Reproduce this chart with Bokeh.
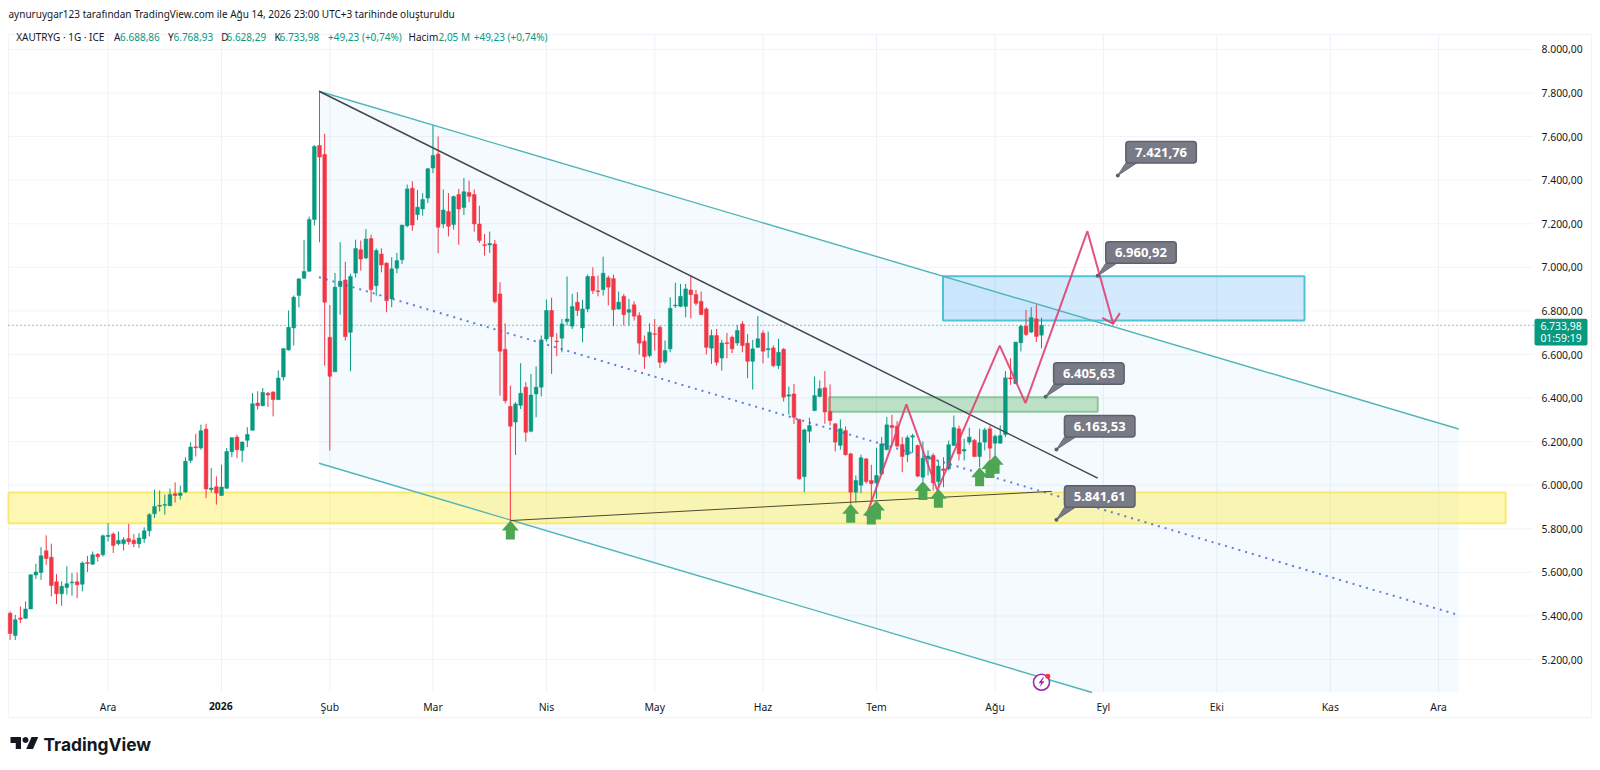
from bokeh.plotting import figure
from bokeh.models import Range1d, FixedTicker, ColumnDataSource
from bokeh.embed import file_html
from bokeh.resources import INLINE
from bokeh.core.properties import value
import numpy as np

opens = [5413,5310,5391,5390,5432,5588,5600,5699,5670,5557,
5502,5531,5552,5557,5546,5645,5638,5683,5681,5765,
5776,5732,5732,5755,5748,5732,5755,5791,5869,5904,
5908,5906,5961,5953,5969,6114,6177,6171,6258,5980,
5993,5953,5986,6154,6221,6160,6206,6252,6377,6365,
6422,6428,6393,6497,6621,6722,6871,6950,6982,7220,
7559,7518,6679,6521,6912,6942,6702,6974,7081,7043,
7132,6916,7061,7019,6855,6996,7035,7191,7363,7242,
7268,7318,7456,7520,7199,7256,7196,7334,7275,7343,
7334,7199,7104,7103,7107,6878,6624,6362,6290,6367,
6450,6248,6419,6450,6671,6802,6662,6675,6751,6730,
6840,6722,6809,6958,6892,6898,6952,6948,6809,6867,
6794,6828,6779,6661,6595,6695,6725,6567,6626,6823,
6821,6821,6896,6875,6844,6809,6629,6687,6584,6654,
6679,6653,6740,6652,6569,6633,6698,6622,6630,6549,
6624,6409,6419,6302,6040,6248,6343,6407,6447,6339,
6282,6183,6251,6144,5968,6000,6121,6022,6011,6052,
6164,6274,6271,6187,6140,6221,6183,6037,6122,6137,
6017,6075,6075,6183,6259,6157,6198,6206,6132,6198,
6259,6193,6193,6233,6493,6466,6654,6730,6703,6764,
6688.86]
highs = [5421,5405,5444,5467,5590,5640,5716,5770,5732,5592,
5559,5628,5597,5600,5650,5676,5696,5689,5773,5826,
5784,5788,5762,5823,5776,5781,5807,5872,5980,5976,
5957,5985,6013,5998,6128,6197,6236,6278,6282,6079,
6041,6094,6171,6221,6232,6201,6266,6423,6431,6446,
6428,6431,6527,6627,6802,6871,6950,7126,7233,7560,
7808,7613,6827,6974,7115,7026,6970,7127,7123,7176,
7150,7087,7087,7023,7046,7066,7194,7380,7395,7355,
7340,7456,7655,7600,7357,7341,7329,7360,7410,7398,
7357,7283,7153,7164,7126,6931,6743,6457,6381,6560,
6473,6511,6546,6687,6852,6860,6698,6763,6958,6878,
6886,6851,6967,7000,6962,7049,6962,6967,6889,6878,
6855,6844,6794,6687,6743,6763,6733,6664,6863,6929,
6924,6924,6962,6896,6889,6817,6714,6717,6667,6699,
6687,6736,6753,6694,6667,6776,6710,6705,6641,6672,
6630,6453,6465,6305,6259,6310,6499,6481,6524,6463,
6285,6302,6270,6149,6045,6140,6124,6094,6172,6221,
6313,6323,6294,6221,6228,6236,6186,6201,6160,6147,
6114,6129,6205,6320,6274,6213,6264,6213,6259,6264,
6274,6233,6274,6524,6583,6657,6736,6805,6817,6830,
6768.93]
lows = [5290,5290,5368,5386,5432,5570,5566,5635,5490,5455,
5447,5498,5493,5482,5513,5602,5635,5650,5673,5742,
5689,5724,5701,5727,5716,5712,5735,5765,5850,5880,
5865,5904,5921,5934,5964,6102,6132,6163,5941,5967,
5911,5952,5984,6129,6125,6106,6175,6252,6347,6362,
6359,6316,6393,6481,6618,6641,6817,6947,6980,7192,
7115,6549,6159,6521,6782,6664,6523,6954,6985,7038,
6840,6870,6977,6794,6817,6973,7015,7184,7168,7217,
7237,7295,7432,7064,7179,7142,7173,7103,7240,7299,
7164,7112,7054,7066,6835,6411,6376,5838,6139,6350,
6200,6243,6312,6408,6659,6511,6592,6610,6733,6717,
6776,6656,6794,6878,6867,6870,6825,6730,6805,6733,
6733,6756,6600,6534,6587,6618,6538,6557,6610,6814,
6817,6771,6766,6825,6783,6600,6557,6549,6526,6583,
6606,6641,6610,6491,6439,6630,6560,6584,6542,6534,
6384,6324,6281,6025,5968,6195,6340,6404,6282,6274,
6155,6163,6137,5915,5922,5964,6007,5922,5938,6048,
6160,6183,6175,6060,6106,6149,6037,6019,6045,5976,
5991,5991,6068,6180,6114,6114,6186,6129,6083,6160,
6121,6137,6190,6221,6461,6466,6614,6684,6698,6657,
6628.29]
closes = [5320,5383,5385,5432,5589,5602,5676,5664,5540,5502,
5536,5548,5556,5543,5643,5641,5681,5672,5768,5770,
5724,5747,5750,5741,5732,5758,5791,5865,5903,5908,
5912,5957,5953,5964,6110,6175,6172,6250,5983,5987,
5964,5992,6155,6218,6163,6198,6233,6374,6365,6426,
6414,6393,6492,6627,6725,6863,6947,6981,7220,7555,
7506,6840,6500,6909,6936,6682,6958,7086,7038,7130,
6898,7077,7011,6847,6993,7031,7194,7360,7194,7276,
7311,7452,7513,7184,7263,7188,7325,7268,7347,7326,
7199,7123,7100,7109,6843,6615,6388,6271,6373,6422,
6243,6414,6450,6667,6802,6682,6659,6740,6763,6820,
6802,6809,6958,6893,6889,6973,6909,6806,6840,6783,
6806,6776,6652,6590,6702,6692,6564,6618,6812,6827,
6867,6901,6875,6835,6783,6633,6687,6564,6653,6650,
6626,6710,6641,6569,6626,6672,6615,6627,6549,6610,
6404,6415,6312,6030,6254,6274,6411,6443,6336,6297,
6198,6259,6140,5968,6022,6126,6017,6007,6045,6190,
6277,6265,6180,6132,6218,6227,6042,6124,6134,6011,
6088,6068,6186,6264,6144,6164,6221,6132,6195,6254,
6170,6225,6228,6493,6488,6657,6730,6692,6769,6683,
6733.98]

price_ticks = [5200,5400,5600,5800,6000,6200,6400,6600,6800,7000,7200,7400,7600,7800,8000]
price_labels = ["5.200,00","5.400,00","5.600,00","5.800,00","6.000,00","6.200,00","6.400,00","6.600,00","6.800,00","7.000,00","7.200,00","7.400,00","7.600,00","7.800,00","8.000,00"]
time_ticks = [19,41,62,82,104,125,146,168,191,212,234,256,277]
time_labels = ["Ara","2026","Şub","Mar","Nis","May","Haz","Tem","Ağu","Eyl","Eki","Kas","Ara"]

channel_x = [59.9, 280.9]
channel_top = [7808, 6258]
channel_bottom = [6101, 4550]
channel_mid = [6955, 5404]
trend_x = [59.9, 210.9]
trend_v = [7808, 6033]
support_x = [97, 202]
support_v = [5838, 5972]
zig_x = [166, 173.8, 179.8, 191.9, 196.9, 208.9, 213.9]
zig_v = [5858, 6371, 5976, 6641, 6377, 7166, 6741]
head_x = [211.8, 213.9, 215.2]
head_v = [6768, 6741, 6790]
zones = {"yellow": (-0.31, 290, 5826, 5967), "blue": (180.9, 251, 6756, 6959), "green": (158.8, 210.9, 6337, 6404)}
arrow_x = [97, 163, 167, 168, 177, 180, 188, 190, 191]
arrow_v = [5838, 5915, 5907, 5930, 6019, 5984, 6083, 6121, 6140]
callout_x = [214.8, 210.9, 200.8, 202.9, 202.9]
callout_v = [7421.76, 6960.92, 6405.63, 6163.53, 5841.61]
callout_t = ["7.421,76", "6.960,92", "6.405,63", "6.163,53", "5.841,61"]

BAR_PX = 5.157
PXX = 1 / BAR_PX  # bars per pixel
PXY = 4.589       # price per pixel
W, H = 1592, 762


def X(px):
    return (np.asarray(px, dtype=float) - 9.6) * PXX


def V(py):
    return 6600 - (np.asarray(py, dtype=float) - 354) * PXY


p = figure(width=W, height=H, output_backend="svg", toolbar_location=None,
           x_range=Range1d(float(X(0)), float(X(W))), y_range=Range1d(float(V(H)), float(V(0))),
           y_axis_location="right", min_border_left=0, min_border_right=0,
           min_border_top=0, min_border_bottom=0, background_fill_color="white",
           border_fill_color="white", outline_line_color=None)

FONT = "Noto Sans"
yax = p.yaxis[0]
yax.ticker = FixedTicker(ticks=price_ticks)
yax.major_label_overrides = dict(zip(price_ticks, price_labels))
xax = p.xaxis[0]
xax.ticker = FixedTicker(ticks=time_ticks)
xax.major_label_overrides = {t: ("" if l == "2026" else l) for t, l in zip(time_ticks, time_labels)}
for ax in (xax, yax):
    ax.axis_line_color = None
    ax.major_tick_line_color = None
    ax.minor_tick_line_color = None
    ax.major_tick_in = 0
    ax.major_tick_out = 0
    ax.minor_tick_in = 0
    ax.minor_tick_out = 0
    ax.major_label_text_font = FONT
    ax.major_label_text_font_size = "10.4px"
    ax.major_label_text_color = "#131722"
yax.major_label_standoff = -(W - 1541)
xax.major_label_standoff = -(H - 699)
p.xgrid.grid_line_color = None
p.ygrid.grid_line_color = None

GRID = "#f2f4f9"
LEFT, RIGHT, TOP, BOTTOM = float(X(8)), float(X(1533)), float(V(34)), float(V(692))
p.segment([LEFT] * len(price_ticks), price_ticks, [RIGHT] * len(price_ticks), price_ticks, line_color=GRID, line_width=1)
p.segment(time_ticks, [BOTTOM] * len(time_ticks), time_ticks, [TOP] * len(time_ticks), line_color="#eef1f6", line_width=1)

# outer frame of the picture
p.line(X([8, 1591, 1591, 8, 8]), V([34, 34, 717, 717, 34]), line_color="#f0f3fa", line_width=1)

# channel fill (the lower edge runs out of the pane)
cut_x = channel_x[0] + (channel_bottom[0] - BOTTOM) / (channel_bottom[0] - channel_bottom[1]) * (channel_x[1] - channel_x[0])
p.patch([channel_x[0], channel_x[1], channel_x[1], cut_x, channel_x[0]],
        [channel_top[0], channel_top[1], BOTTOM, BOTTOM, channel_bottom[0]],
        fill_color="#2196f3", fill_alpha=0.05, line_color=None)

# zones
y = zones["yellow"]
p.quad(left=y[0], right=y[1], bottom=y[2], top=y[3], fill_color="#ffeb3b", fill_alpha=0.38, line_color="#f8ea6c", line_width=2)
g = zones["green"]
p.quad(left=g[0], right=g[1], bottom=g[2], top=g[3], fill_color="#4caf50", fill_alpha=0.32, line_color="#8cc79a", line_width=2)
b = zones["blue"]
p.quad(left=b[0], right=b[1], bottom=b[2], top=b[3], fill_color="#2196f3", fill_alpha=0.2, line_color="#4dc4d8", line_width=2)

# candles
o, h, l, c = map(np.array, (opens, highs, lows, closes))
idx = np.arange(len(o))
col = np.where(c >= o, "#089981", "#f23645")
src = ColumnDataSource(dict(x=idx, o=o, h=h, l=l, c=c, col=col, top=np.maximum(o, c), bot=np.minimum(o, c)))
p.segment("x", "l", "x", "h", source=src, line_color="col", line_width=1)
p.vbar(x="x", width=0.72, top="top", bottom="bot", source=src, fill_color="col", line_color="col", line_width=0.5)

# channel edges (the lower one stops at the bottom of the pane)
p.line(channel_x, channel_top, line_color="#4fb5b8", line_width=1.4)
p.line([channel_x[0], cut_x], [channel_bottom[0], BOTTOM], line_color="#4fb5b8", line_width=1.4)
p.line(channel_x, channel_mid, line_color="#3f5fd0", line_width=2, line_dash="2 5", line_alpha=0.8)
p.line(trend_x, trend_v, line_color="#434651", line_width=1.5)
p.line(support_x, support_v, line_color="#4b4a2e", line_width=1)
p.line(zig_x, zig_v, line_color="#e0406f", line_width=2, line_alpha=0.9)
p.line(head_x, head_v, line_color="#e0406f", line_width=2, line_alpha=0.9)

# last price line
p.line([LEFT, RIGHT], [closes[-1], closes[-1]], line_color="#089981", line_width=1, line_dash="1 3")

# green arrows
ax_, ay_ = [], []
for xa, va in zip(arrow_x, arrow_v):
    dx = np.array([0, 8.5, 4.5, 4.5, -4.5, -4.5, -8.5]) * PXX
    dy = -np.array([0, 10, 10, 19, 19, 10, 10]) * PXY
    ax_.append(list(xa + dx))
    ay_.append(list(va + dy))
p.patches(ax_, ay_, fill_color="#4ea652", line_color=None)

# callouts
for xa, va, t in zip(callout_x, callout_v, callout_t):
    left = xa + 8 * PXX
    bottom = va + 12.5 * PXY
    right = left + 70.5 * PXX
    top = bottom + 21.5 * PXY
    p.patch([xa, left, left + 11 * PXX], [va, bottom, bottom], fill_color="#787b86", line_color="#6a6d78", line_width=1)
    p.quad(left=left, right=right, bottom=bottom, top=top, fill_color="#787b86", line_color="#5d606b", line_width=1.5, border_radius=3)
    p.text([(left + right) / 2], [(top + bottom) / 2], text=[t], text_color="#ffffff", text_align="center", text_baseline="middle",
           text_font=value(FONT), text_font_size="13px", text_font_style="bold")
p.scatter(callout_x, callout_v, size=4, fill_color="#5d606b", line_color=None)

# event icon
ex, ev = 200, 5096
p.scatter([ex], [ev], size=16, fill_color="#ffffff", line_color="#9c27b0", line_width=1.6)
bolt_x = ex + np.array([1.5, -3, -0.3, -2, 3, 0.3, 2.5]) * PXX
bolt_y = ev - np.array([-5, 1, 1, 5, -1, -1, -5]) * PXY
p.patch(list(bolt_x), list(bolt_y), fill_color="#9c27b0", line_color=None)
p.scatter([ex + 6.3 * PXX], [ev + 6 * PXY], size=5, fill_color="#f23645", line_color=None)


def lab(t, x, y, color="#131722", size="10px", style="normal", font=FONT, align="left"):
    p.text([float(X(x))], [float(V(y))], text=[t], text_color=color, text_font=value(font), text_font_size=size,
           text_font_style=style, text_baseline="middle", text_align=align)


lab("aynuruygar123 tarafından TradingView.com ile Ağu 14, 2026 23:00 UTC+3 tarihinde oluşturuldu", 8, 13.5)
G = "#089981"
D = "#131722"
for t, x, cl in [("XAUTRYG · 1G · ICE", 15.7, D), ("A", 113.6, D), ("6.688,86", 119.6, G),
                 ("Y", 167.5, D), ("6.768,93", 173, G), ("D", 220.7, D), ("6.628,29", 226, G),
                 ("K", 274, D), ("6.733,98", 279, G), ("+49,23 (+0,74%)", 327.5, G),
                 ("Hacim", 408, D), ("2,05 M", 438, G), ("+49,23 (+0,74%)", 473.2, G)]:
    lab(t, x, 36.5, color=cl)

# bold year label on the time axis
lab("2026", 220.3, 705, size="10.4px", style="bold", align="center")

# price tag
p.quad(left=float(X(1534)), right=float(X(1587)), top=float(V(318.3)), bottom=float(V(345)), fill_color="#089981", line_color=None, border_radius=2)
lab("6.733,98", 1560.5, 325.3, color="#ffffff", size="10.4px", align="center")
lab("01:59:19", 1560.5, 337.5, color="#ffffff", size="10.4px", align="center")

# logo
LOGO = "#131722"
def poly(xs, ys):
    p.patch(X(10 + 0.75 * np.asarray(xs)), V(732 + 0.75 * np.asarray(ys)), fill_color=LOGO, line_color=None)

poly([0, 14, 14, 7, 7, 0], [6, 6, 22, 22, 14, 14])
th = np.linspace(0, 2 * np.pi, 16)[:-1]
poly(20 + 4 * np.cos(th), 10 + 4 * np.sin(th))
poly([28, 37, 30, 21], [6, 6, 22, 22])
lab("TradingView", 43, 744, size="17.4px", style="bold", font="Inter")

open("out.html", "w").write(file_html(p, INLINE))
